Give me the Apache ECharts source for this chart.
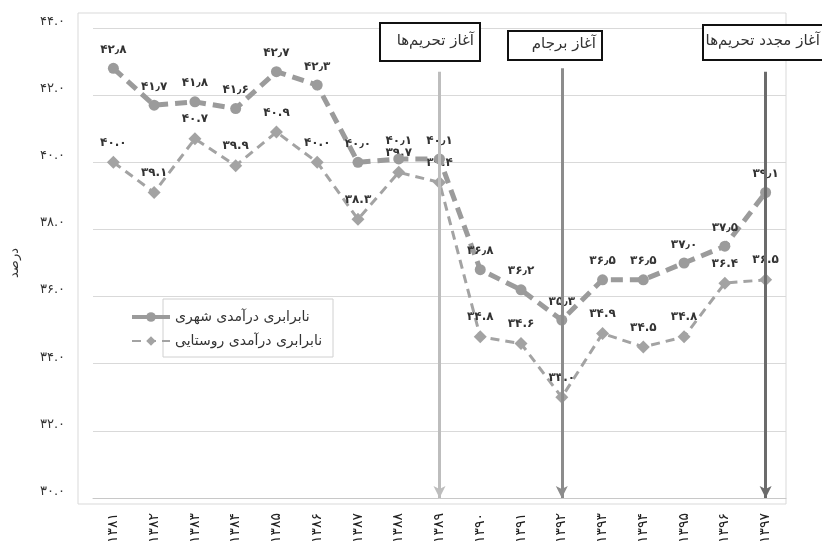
<!DOCTYPE html>
<html>
<head>
<meta charset="utf-8">
<script src="https://cdn.jsdelivr.net/npm/echarts@6/dist/echarts.min.js"></script>
<style>
	html, body { margin: 0; padding: 0; background: #fff; }
	#chart { width: 822px; height: 551px; }
</style>
</head>
<body>
<div id="chart"></div>
<script>
// سال‌ها
var years = ['1381', '1382', '1383', '1384', '1385', '1386', '1387', '1388', '1389',
	'1390', '1391', '1392', '1393', '1394', '1395', '1396', '1397'];
// نابرابری درآمدی شهری
var urbanVals = [42.8, 41.7, 41.8, 41.6, 42.7, 42.3, 40.0, 40.1, 40.1,
	36.8, 36.2, 35.3, 36.5, 36.5, 37.0, 37.5, 39.1];
// نابرابری درآمدی روستایی
var ruralVals = [40.0, 39.1, 40.7, 39.9, 40.9, 40.0, 38.3, 39.7, 39.4,
	34.8, 34.6, 33.0, 34.9, 34.5, 34.8, 36.4, 36.5];
var seriesNames = ['نابرابری درآمدی شهری', 'نابرابری درآمدی روستایی'];
// رویدادها
var eventYears = ['1389', '1392', '1397'];
var eventTop = [42.7, 42.8, 42.7];
var eventNames = ['آغاز تحریم‌ها', 'آغاز برجام', 'آغاز مجدد تحریم‌ها'];

var faDigits = '۰۱۲۳۴۵۶۷۸۹';
function fa(s) {
	return String(s).replace(/\d/g, function(d) { return faDigits[d]; });
}

var font = 'DejaVu Sans';
var chart = echarts.init(document.getElementById('chart'));

var arrowColors = ['#bdbdbd', '#8c8c8c', '#6b6b6b'];
var markData = eventYears.map(function(y, i) {
	return [
		{ coord: [y, eventTop[i]], lineStyle: { color: arrowColors[i], width: 3, type: 'solid' } },
		{ coord: [y, 30] }
	];
});

// جعبه‌های متن رویدادها
var boxes = [
	{ x: 380, y: 23, w: 100, h: 38, tx: 474 },
	{ x: 508, y: 31, w: 94, h: 29, tx: 596 },
	{ x: 703, y: 25, w: 125, h: 35, tx: 820 }
];
var graphics = [{
	type: 'rect', silent: true, z: -1,
	shape: { x: 78, y: 13, width: 708, height: 491 },
	style: { fill: 'none', stroke: '#d9d9d9', lineWidth: 1 }
}, {
	type: 'rect', silent: true,
	shape: { x: 163, y: 299, width: 170, height: 58 },
	style: { fill: '#fff', stroke: '#d0d0d0', lineWidth: 1 }
}];
boxes.forEach(function(b, i) {
	graphics.push({
		type: 'rect', z: 10,
		shape: { x: b.x, y: b.y, width: b.w, height: b.h },
		style: { fill: '#fff', stroke: '#111', lineWidth: 2 }
	});
	graphics.push({
		type: 'text', z: 11,
		x: b.tx, y: b.y + b.h / 2 - 1,
		style: { text: eventNames[i], fill: '#333', font: '15px ' + font, textAlign: 'right', textVerticalAlign: 'middle' }
	});
});

chart.setOption({
	animation: false,
	textStyle: { fontFamily: font },
	grid: { left: 93, right: 36, top: 28, bottom: 53, containLabel: false, outerBoundsMode: 'none' },
	graphic: graphics,
	legend: {
		orient: 'vertical',
		left: 125, top: 305,
		itemGap: 10,
		itemWidth: 38, itemHeight: 12,
		z: 20,
		textStyle: { fontSize: 14, color: '#333', fontFamily: font },
		data: [
			{ name: seriesNames[0], lineStyle: { type: 'solid', width: 4 } },
			{ name: seriesNames[1] }
		]
	},
	xAxis: {
		type: 'category',
		data: years,
		axisLine: { lineStyle: { color: '#c8c8c8' } },
		axisTick: { show: false },
		axisLabel: {
			rotate: 90, margin: 15, fontSize: 14, color: '#222',
			formatter: function(v) { return fa(v); }
		}
	},
	yAxis: {
		type: 'value',
		min: 30, max: 44, interval: 2,
		name: 'درصد',
		nameLocation: 'middle', nameRotate: 90, nameGap: 72,
		nameTextStyle: { fontSize: 13, color: '#333' },
		axisLine: { show: false },
		axisTick: { show: false },
		splitLine: { lineStyle: { color: '#d9d9d9' } },
		axisLabel: {
			margin: 28, fontSize: 13, color: '#333', verticalAlign: 'bottom',
			formatter: function(v) { return fa(v.toFixed(1)); }
		}
	},
	series: [{
		name: seriesNames[0],
		type: 'line',
		data: urbanVals,
		symbol: 'circle', symbolSize: 11,
		itemStyle: { color: '#9b9b9b' },
		lineStyle: { color: '#9b9b9b', width: 5, type: [12, 7] },
		label: {
			show: true, position: 'top', distance: 7,
			fontSize: 12, fontWeight: 'bold', color: '#333',
			formatter: function(p) { return fa(p.value.toFixed(1)).replace('.', '٫'); }
		},
		z: 3
	}, {
		name: seriesNames[1],
		type: 'line',
		data: ruralVals,
		symbol: 'diamond', symbolSize: 13,
		itemStyle: { color: '#a3a3a3' },
		lineStyle: { color: '#a3a3a3', width: 3, type: [9, 6] },
		label: {
			show: true, position: 'top', distance: 7,
			fontSize: 12, fontWeight: 'bold', color: '#333',
			formatter: function(p) { return fa(p.value.toFixed(1)); }
		},
		markLine: {
			silent: true,
			symbol: ['none', 'arrow'],
			symbolSize: [9, 12],
			label: { show: false },
			data: markData
		},
		z: 2
	}]
});
</script>
</body>
</html>
